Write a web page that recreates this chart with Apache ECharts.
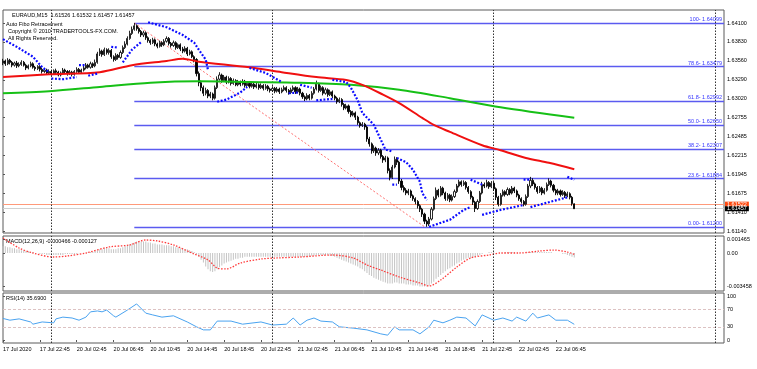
<!DOCTYPE html>
<html><head><meta charset="utf-8">
<script src="https://cdn.jsdelivr.net/npm/echarts@6/dist/echarts.min.js"></script>
<style>html,body{margin:0;padding:0;background:#fff}#c{width:757px;height:369px}</style>
</head><body><div id="c"></div>
<script>
// ---- price data (EURAUD M15), one entry per bar ----
const opens = [
1.6353,1.6356,1.6352,1.6357,1.6354,1.6350,1.6353,1.6349,1.6351,1.6354,
1.6350,1.6346,1.6349,1.6352,1.6347,1.6345,1.6348,1.6344,1.6341,1.6343,
1.6339,1.6341,1.6338,1.6342,1.6340,1.6336,1.6339,1.6343,1.6341,1.6338,
1.6340,1.6337,1.6341,1.6344,1.6340,1.6343,1.6346,1.6350,1.6347,1.6352,
1.6349,1.6354,1.6366,1.6370,1.6365,1.6372,1.6368,1.6371,1.6362,1.6358,
1.6364,1.6361,1.6368,1.6375,1.6380,1.6388,1.6395,1.6401,1.6406,1.6402,
1.6398,1.6393,1.6396,1.6389,1.6385,1.6382,1.6386,1.6380,1.6377,1.6382,
1.6379,1.6384,1.6388,1.6381,1.6378,1.6382,1.6375,1.6379,1.6373,1.6370,
1.6374,1.6366,1.6369,1.6362,1.6358,1.6338,1.6325,1.6318,1.6310,1.6314,
1.6306,1.6309,1.6303,1.6318,1.6330,1.6336,1.6328,1.6333,1.6326,1.6331,
1.6324,1.6328,1.6322,1.6326,1.6323,1.6327,1.6321,1.6324,1.6320,1.6323,
1.6319,1.6322,1.6318,1.6321,1.6317,1.6320,1.6316,1.6314,1.6317,1.6313,
1.6316,1.6312,1.6315,1.6318,1.6314,1.6311,1.6315,1.6318,1.6312,1.6316,
1.6310,1.6305,1.6302,1.6307,1.6303,1.6310,1.6316,1.6323,1.6314,1.6318,
1.6310,1.6315,1.6308,1.6312,1.6306,1.6303,1.6298,1.6301,1.6294,1.6289,
1.6292,1.6284,1.6279,1.6282,1.6276,1.6268,1.6264,1.6266,1.6262,1.6245,
1.6238,1.6228,1.6232,1.6225,1.6229,1.6220,1.6215,1.6218,1.6200,1.6190,
1.6205,1.6216,1.6212,1.6185,1.6176,1.6172,1.6168,1.6171,1.6164,1.6160,
1.6156,1.6150,1.6145,1.6138,1.6128,1.6124,1.6131,1.6145,1.6160,1.6172,
1.6165,1.6175,1.6168,1.6160,1.6165,1.6158,1.6163,1.6170,1.6178,1.6184,
1.6180,1.6183,1.6176,1.6170,1.6162,1.6155,1.6146,1.6156,1.6168,1.6180,
1.6178,1.6183,1.6177,1.6182,1.6174,1.6162,1.6152,1.6165,1.6170,1.6166,
1.6173,1.6168,1.6175,1.6171,1.6165,1.6160,1.6156,1.6152,1.6163,1.6178,
1.6186,1.6181,1.6176,1.6170,1.6175,1.6168,1.6172,1.6180,1.6185,1.6179,
1.6172,1.6168,1.6171,1.6166,1.6169,1.6164,1.6167,1.6162,1.61526];
const highs = [
1.6359,1.6358,1.6360,1.6359,1.6356,1.6355,1.6356,1.6354,1.6357,1.6356,
1.6352,1.6351,1.6355,1.6354,1.6349,1.6350,1.6350,1.6346,1.6346,1.6345,
1.6344,1.6343,1.6344,1.6345,1.6342,1.6341,1.6346,1.6345,1.6343,1.6343,
1.6342,1.6343,1.6347,1.6346,1.6345,1.6349,1.6353,1.6352,1.6355,1.6354,
1.6358,1.6369,1.6374,1.6372,1.6375,1.6374,1.6374,1.6373,1.6364,1.6367,
1.6366,1.6371,1.6378,1.6384,1.6391,1.6399,1.6405,1.6410,1.6408,1.6404,
1.6400,1.6399,1.6398,1.6391,1.6387,1.6389,1.6388,1.6382,1.6385,1.6384,
1.6387,1.6391,1.6390,1.6383,1.6385,1.6384,1.6381,1.6381,1.6376,1.6377,
1.6376,1.6372,1.6371,1.6364,1.6360,1.6341,1.6328,1.6321,1.6318,1.6316,
1.6312,1.6311,1.6321,1.6334,1.6340,1.6338,1.6336,1.6335,1.6334,1.6333,
1.6331,1.6330,1.6329,1.6328,1.6330,1.6329,1.6327,1.6326,1.6326,1.6325,
1.6325,1.6324,1.6324,1.6323,1.6323,1.6322,1.6318,1.6320,1.6319,1.6319,
1.6318,1.6318,1.6321,1.6320,1.6316,1.6318,1.6321,1.6320,1.6319,1.6318,
1.6312,1.6307,1.6310,1.6309,1.6313,1.6319,1.6328,1.6325,1.6321,1.6320,
1.6318,1.6317,1.6315,1.6314,1.6308,1.6305,1.6304,1.6303,1.6296,1.6295,
1.6294,1.6286,1.6285,1.6284,1.6278,1.6270,1.6269,1.6268,1.6264,1.6248,
1.6240,1.6236,1.6234,1.6232,1.6231,1.6222,1.6221,1.6220,1.6203,1.6208,
1.6220,1.6219,1.6214,1.6188,1.6179,1.6175,1.6174,1.6173,1.6166,1.6162,
1.6158,1.6152,1.6147,1.6140,1.6130,1.6134,1.6148,1.6163,1.6176,1.6174,
1.6178,1.6177,1.6170,1.6168,1.6167,1.6166,1.6173,1.6181,1.6187,1.6186,
1.6186,1.6185,1.6178,1.6172,1.6164,1.6157,1.6159,1.6171,1.6184,1.6183,
1.6187,1.6185,1.6185,1.6184,1.6176,1.6164,1.6168,1.6173,1.6172,1.6176,
1.6175,1.6178,1.6177,1.6173,1.6167,1.6162,1.6158,1.6166,1.6181,1.6191,
1.6189,1.6183,1.6178,1.6178,1.6177,1.6175,1.6183,1.6189,1.6187,1.6181,
1.6174,1.6174,1.6173,1.6172,1.6171,1.6170,1.6169,1.6164,1.61532];
const lows = [
1.6350,1.6349,1.6350,1.6351,1.6347,1.6348,1.6346,1.6347,1.6349,1.6348,
1.6343,1.6344,1.6347,1.6345,1.6342,1.6343,1.6341,1.6338,1.6339,1.6336,
1.6337,1.6335,1.6336,1.6337,1.6334,1.6334,1.6337,1.6338,1.6335,1.6336,
1.6334,1.6335,1.6339,1.6338,1.6338,1.6341,1.6344,1.6345,1.6345,1.6346,
1.6347,1.6352,1.6363,1.6362,1.6363,1.6365,1.6365,1.6359,1.6355,1.6356,
1.6358,1.6359,1.6366,1.6373,1.6378,1.6386,1.6393,1.6399,1.6399,1.6395,
1.6390,1.6390,1.6386,1.6382,1.6379,1.6380,1.6377,1.6374,1.6375,1.6376,
1.6377,1.6382,1.6378,1.6375,1.6376,1.6372,1.6373,1.6370,1.6367,1.6368,
1.6363,1.6364,1.6360,1.6354,1.6334,1.6320,1.6313,1.6306,1.6307,1.6303,
1.6303,1.6300,1.6301,1.6316,1.6328,1.6325,1.6326,1.6323,1.6324,1.6321,
1.6322,1.6320,1.6320,1.6320,1.6321,1.6318,1.6319,1.6317,1.6318,1.6316,
1.6317,1.6315,1.6316,1.6314,1.6315,1.6313,1.6311,1.6312,1.6310,1.6311,
1.6309,1.6310,1.6313,1.6311,1.6308,1.6309,1.6313,1.6309,1.6310,1.6307,
1.6302,1.6299,1.6300,1.6300,1.6301,1.6308,1.6314,1.6311,1.6312,1.6307,
1.6308,1.6305,1.6306,1.6303,1.6300,1.6295,1.6296,1.6291,1.6286,1.6287,
1.6281,1.6276,1.6277,1.6272,1.6265,1.6261,1.6262,1.6258,1.6241,1.6234,
1.6224,1.6225,1.6221,1.6222,1.6217,1.6211,1.6212,1.6196,1.6186,1.6188,
1.6203,1.6208,1.6181,1.6172,1.6169,1.6165,1.6165,1.6161,1.6157,1.6152,
1.6146,1.6141,1.6134,1.6124,1.6120,1.6121,1.6129,1.6143,1.6158,1.6162,
1.6163,1.6165,1.6157,1.6157,1.6155,1.6156,1.6161,1.6168,1.6176,1.6177,
1.6178,1.6173,1.6167,1.6159,1.6151,1.6141,1.6144,1.6154,1.6166,1.6175,
1.6176,1.6174,1.6175,1.6171,1.6158,1.6149,1.6150,1.6163,1.6163,1.6164,
1.6165,1.6166,1.6168,1.6162,1.6157,1.6153,1.6149,1.6150,1.6161,1.6175,
1.6178,1.6173,1.6167,1.6168,1.6165,1.6166,1.6170,1.6178,1.6176,1.6169,
1.6165,1.6165,1.6163,1.6164,1.6161,1.6162,1.6159,1.6150,1.61457];
const closes = [
1.6356,1.6352,1.6357,1.6354,1.6350,1.6353,1.6349,1.6351,1.6354,1.6350,
1.6346,1.6349,1.6352,1.6347,1.6345,1.6348,1.6344,1.6341,1.6343,1.6339,
1.6341,1.6338,1.6342,1.6340,1.6336,1.6339,1.6343,1.6341,1.6338,1.6340,
1.6337,1.6341,1.6344,1.6340,1.6343,1.6346,1.6350,1.6347,1.6352,1.6349,
1.6354,1.6366,1.6370,1.6365,1.6372,1.6368,1.6371,1.6362,1.6358,1.6364,
1.6361,1.6368,1.6375,1.6380,1.6388,1.6395,1.6401,1.6406,1.6402,1.6398,
1.6393,1.6396,1.6389,1.6385,1.6382,1.6386,1.6380,1.6377,1.6382,1.6379,
1.6384,1.6388,1.6381,1.6378,1.6382,1.6375,1.6379,1.6373,1.6370,1.6374,
1.6366,1.6369,1.6362,1.6358,1.6338,1.6325,1.6318,1.6310,1.6314,1.6306,
1.6309,1.6303,1.6318,1.6330,1.6336,1.6328,1.6333,1.6326,1.6331,1.6324,
1.6328,1.6322,1.6326,1.6323,1.6327,1.6321,1.6324,1.6320,1.6323,1.6319,
1.6322,1.6318,1.6321,1.6317,1.6320,1.6316,1.6314,1.6317,1.6313,1.6316,
1.6312,1.6315,1.6318,1.6314,1.6311,1.6315,1.6318,1.6312,1.6316,1.6310,
1.6305,1.6302,1.6307,1.6303,1.6310,1.6316,1.6323,1.6314,1.6318,1.6310,
1.6315,1.6308,1.6312,1.6306,1.6303,1.6298,1.6301,1.6294,1.6289,1.6292,
1.6284,1.6279,1.6282,1.6276,1.6268,1.6264,1.6266,1.6262,1.6245,1.6238,
1.6228,1.6232,1.6225,1.6229,1.6220,1.6215,1.6218,1.6200,1.6190,1.6205,
1.6216,1.6212,1.6185,1.6176,1.6172,1.6168,1.6171,1.6164,1.6160,1.6156,
1.6150,1.6145,1.6138,1.6128,1.6124,1.6131,1.6145,1.6160,1.6172,1.6165,
1.6175,1.6168,1.6160,1.6165,1.6158,1.6163,1.6170,1.6178,1.6184,1.6180,
1.6183,1.6176,1.6170,1.6162,1.6155,1.6146,1.6156,1.6168,1.6180,1.6178,
1.6183,1.6177,1.6182,1.6174,1.6162,1.6152,1.6165,1.6170,1.6166,1.6173,
1.6168,1.6175,1.6171,1.6165,1.6160,1.6156,1.6152,1.6163,1.6178,1.6186,
1.6181,1.6176,1.6170,1.6175,1.6168,1.6172,1.6180,1.6185,1.6179,1.6172,
1.6168,1.6171,1.6166,1.6169,1.6164,1.6167,1.6162,1.6153,1.61457];

// moving averages: [bar, price]
const maRed = [[0,1.6333],[20,1.6337],[42,1.6340],[56,1.6350],[71,1.6356],[78,1.6359],[85,1.6355],[107,1.6347],[121,1.6340],[136,1.6333],[149,1.6329],[156,1.6322],[165,1.6308],[172,1.6296],[182,1.6275],[187,1.6265],[194,1.6255],[208,1.6236],[216,1.6229],[227,1.6218],[237,1.6211],[248,1.6202]];
const maGreen = [[0,1.6310],[20,1.6313],[42,1.6319],[64,1.6325],[85,1.6327],[107,1.6326],[129,1.6325],[151,1.6322],[172,1.6315],[194,1.6303],[216,1.6290],[248,1.6275]];

// parabolic SAR runs: [bar, price]
const sarRuns = [
 [[0,1.6387],[6,1.6376],[13,1.6362],[17,1.6347],[20,1.6340]],
 [[21,1.6331],[26,1.6330],[32,1.6333]],
 [[33,1.6350],[36,1.6350]],
 [[37,1.6335],[41,1.6338]],
 [[47,1.6376],[50,1.6375]],
 [[52,1.6354],[56,1.6372],[60,1.6383]],
 [[63,1.6411],[71,1.6404],[78,1.6393],[83,1.6382],[85,1.6372],[88,1.6358],[89,1.6343]],
 [[93,1.6298],[97,1.6301],[103,1.6311],[106,1.6319]],
 [[107,1.6346],[114,1.6339],[121,1.6326]],
 [[124,1.6310],[128,1.6311]],
 [[129,1.6322],[134,1.6318]],
 [[136,1.6300],[143,1.6302]],
 [[143,1.6329],[149,1.6326],[151,1.6318],[154,1.6300],[156,1.6282],[159,1.6272],[161,1.6265],[164,1.6244],[166,1.6230],[169,1.6227]],
 [[169,1.6180],[171,1.6180]],
 [[171,1.6218],[175,1.6212],[178,1.6201],[181,1.6184],[182,1.6168],[184,1.6158]],
 [[185,1.6120],[194,1.6130],[200,1.6144],[203,1.6148]],
 [[203,1.6187],[208,1.6180]],
 [[208,1.6137],[216,1.6144],[226,1.6151]],
 [[226,1.6187],[229,1.6187]],
 [[229,1.6148],[245,1.6162]],
 [[245,1.6191],[248,1.6187]]
];

// fibonacci levels
const fiboPct = ['100','78.6','61.8','50.0','38.2','23.6','0.00'];
const fiboLevels = [1.64099,1.63479,1.62992,1.62650,1.62307,1.61884,1.61200];
const fiboHighBar = 57, fiboLowBar = 183;
const askPrice = 1.61522, bidPrice = 1.61457;

// MACD(12,26,9) main (histogram) per bar and signal line points
const macdMain = [
0.0007,0.0007,0.0006,0.0006,0.0005,0.0005,0.0004,0.0004,0.0003,0.0003,
0.0002,0.0002,0.0001,0.0001,0,0,-0.0001,-0.0001,-0.0001,-0.0002,
-0.0002,-0.0002,-0.0002,-0.0002,-0.0002,-0.0002,-0.0002,-0.0001,-0.0001,-0.0001,
-0.0001,-0.0001,-0.0001,0,0,0,0,0.0001,0.0001,0.0001,
0.0002,0.0003,0.0004,0.0004,0.0005,0.0005,0.0005,0.0004,0.0004,0.0004,
0.0005,0.0005,0.0006,0.0007,0.0008,0.0009,0.0010,0.0011,0.0012,0.0012,
0.0012,0.0012,0.0012,0.0011,0.0011,0.0010,0.0010,0.0009,0.0009,0.0009,
0.0008,0.0008,0.0008,0.0007,0.0007,0.0006,0.0006,0.0005,0.0005,0.0004,
0.0004,0.0003,0.0002,0.0001,-0.0001,-0.0004,-0.0007,-0.0010,-0.0014,-0.0017,
-0.0019,-0.0020,-0.0019,-0.0017,-0.0015,-0.0013,-0.0011,-0.0010,-0.0009,-0.0008,
-0.0007,-0.0006,-0.0006,-0.0005,-0.0005,-0.0004,-0.0004,-0.0004,-0.0004,-0.0004,
-0.0004,-0.0004,-0.0004,-0.0004,-0.0004,-0.0004,-0.0004,-0.0004,-0.0004,-0.0004,
-0.0004,-0.0004,-0.0004,-0.0004,-0.0004,-0.0004,-0.0004,-0.0004,-0.0004,-0.0004,
-0.0004,-0.0004,-0.0004,-0.0004,-0.0003,-0.0003,-0.0002,-0.0002,-0.0002,-0.0002,
-0.0002,-0.0002,-0.0003,-0.0003,-0.0004,-0.0005,-0.0006,-0.0007,-0.0008,-0.0009,
-0.0010,-0.0011,-0.0012,-0.0013,-0.0014,-0.0016,-0.0017,-0.0019,-0.0021,-0.0023,
-0.0024,-0.0026,-0.0027,-0.0028,-0.0029,-0.0030,-0.0031,-0.0032,-0.0032,-0.0032,
-0.0031,-0.0031,-0.0032,-0.0032,-0.0032,-0.0033,-0.0033,-0.0033,-0.0034,-0.0034,
-0.0034,-0.0035,-0.0035,-0.0035,-0.0035,-0.0034,-0.0032,-0.0030,-0.0027,-0.0025,
-0.0023,-0.0021,-0.0019,-0.0017,-0.0016,-0.0014,-0.0013,-0.0011,-0.0010,-0.0008,
-0.0007,-0.0006,-0.0005,-0.0005,-0.0005,-0.0004,-0.0003,-0.0002,-0.0001,0,
0,0.0001,0.0001,0.0001,0,0,0,0,0.0001,0.0001,
0.0001,0.0001,0.0001,0,0,0,0,0,0.0001,0.0001,
0.0001,0.0001,0.0001,0.0001,0.0001,0.0001,0.0001,0.0001,0.0001,0,
0,0,0,-0.0001,-0.0001,-0.0002,-0.0003,-0.0004,-0.000466];
const macdSignal = [[0,0.00157],[7,0.00052],[13,0],[22,-0.00042],[28,-0.00031],[36,0],[46,0.00063],[55,0.00084],[62,0.00136],[67,0.00126],[74,0.00084],[82,0],[89,-0.00073],[93,-0.00157],[97,-0.00167],[103,-0.00105],[112,-0.00063],[119,-0.00052],[129,-0.00042],[143,-0.00021],[152,-0.00052],[158,-0.00126],[164,-0.00178],[172,-0.00251],[181,-0.00314],[185,-0.00345],[190,-0.00283],[197,-0.00147],[203,-0.00052],[211,-0.00021],[216,0],[224,0],[233,0.00021],[239,0.00031],[245,0.0001],[248,-0.000127]];

// RSI(14) points
const rsi = [[0,49],[3,45],[7,48],[12,41],[13,36],[17,41],[22,39],[23,48],[26,52],[30,50],[33,45],[36,52],[38,64],[41,66],[43,64],[45,68],[48,55],[49,52],[54,68],[58,82],[62,61],[65,57],[69,52],[74,55],[80,41],[84,30],[87,23],[90,23],[93,43],[99,43],[104,36],[112,41],[117,34],[123,36],[126,50],[129,34],[132,45],[135,50],[138,43],[143,41],[146,30],[152,27],[158,23],[164,14],[167,11],[170,30],[172,23],[178,23],[181,14],[185,30],[187,45],[191,39],[194,45],[197,52],[201,50],[205,32],[208,57],[213,45],[217,50],[221,43],[223,52],[227,43],[230,61],[232,50],[237,57],[240,45],[245,45],[248,35.69]];

// axes
const priceTicks = [1.64100,1.63830,1.63560,1.63290,1.63020,1.62755,1.62485,1.62215,1.61945,1.61675,1.61410,1.61140];
const macdTicks = [0.001465, 0, -0.003458];
const rsiTicks = [100, 70, 30, 0];
const rsiLevels = [70, 30];
const timeLabelBars = [0,16,32,48,64,80,96,112,128,144,160,176,192,208,224,240];
const timeLabels = ['17 Jul 2020','17 Jul 22:45','20 Jul 02:45','20 Jul 06:45','20 Jul 10:45','20 Jul 14:45','20 Jul 18:45','20 Jul 22:45','21 Jul 02:45','21 Jul 06:45','21 Jul 10:45','21 Jul 14:45','21 Jul 18:45','21 Jul 22:45','22 Jul 02:45','22 Jul 06:45'];
const daySeparators = [21, 117, 213, 309];
const lastBarSlot = 313;

const FONT = '"Liberation Sans", Arial, sans-serif';
const FS = 5.5;
const chart = echarts.init(document.getElementById('c'), null, {renderer: 'canvas'});

const sepStyle = {color: '#333', type: [1.5, 1.5], width: 1};
const sepLines = daySeparators.map(b => ({xAxis: b, lineStyle: sepStyle, label: {show: false}}));

const xBase = (gi, showLabels) => ({
  type: 'value', gridIndex: gi, min: 0, max: lastBarSlot,
  axisLine: {show: false},
  splitLine: {show: false},
  axisTick: {show: showLabels, customValues: timeLabelBars, length: 2, lineStyle: {color: '#555'}},
  axisLabel: {show: showLabels, customValues: timeLabelBars, align: 'left', margin: 3,
    fontSize: FS, fontFamily: FONT, color: '#000',
    formatter: v => timeLabels[timeLabelBars.indexOf(v)] || ''}
});
const yBase = (gi, min, max, ticks, fmt) => ({
  type: 'value', gridIndex: gi, position: 'right', min, max, scale: true,
  axisLine: {show: false}, splitLine: {show: false},
  axisTick: {show: true, inside: false, length: 2, customValues: ticks, lineStyle: {color: '#555'}},
  axisLabel: {customValues: ticks, margin: 3, fontSize: FS, fontFamily: FONT, color: '#000', formatter: fmt}
});

const fiboMark = fiboLevels.map((lv, k) => [
  {coord: [fiboHighBar, lv], label: {show: true, position: 'insideEndTop', distance: [2, 0.5],
    formatter: fiboPct[k] + '- ' + lv.toFixed(5), fontSize: FS, fontFamily: FONT, color: '#3434ff'}},
  {coord: [lastBarSlot, lv]}
]);
const priceTag = (price, lineColor, tagColor) => [
  {coord: [0, price], lineStyle: {color: lineColor, width: 1, type: 'solid'},
   label: {show: true, position: 'end', distance: 1, formatter: price.toFixed(5), color: '#fff',
     backgroundColor: tagColor, padding: [0, 2, -1, 2], lineHeight: 6, fontSize: FS, fontFamily: FONT}},
  {coord: [lastBarSlot, price]}
];

const series = [
  {type: 'candlestick', name: 'EURAUD', xAxisIndex: 0, yAxisIndex: 0, barWidth: 1.6, z: 3,
   encode: {x: 0, y: [1, 2, 3, 4]},
   data: closes.map((c, i) => [i, opens[i], c, lows[i], highs[i]]),
   itemStyle: {color: '#ffffff', color0: '#000000', borderColor: '#111111', borderColor0: '#000000', borderWidth: 0.9},
   markLine: {symbol: ['none','none'], silent: true, z: 1, animation: false,
     lineStyle: {color: '#5b5bf0', type: 'solid', width: 1.3},
     data: [
       ...fiboMark,
       priceTag(askPrice, '#ff9a7a', '#ff4a10'),
       priceTag(bidPrice, '#d0d0d0', '#000000'),
       ...sepLines
     ]}},
  {type: 'line', name: 'fiboTrend', xAxisIndex: 0, yAxisIndex: 0, symbol: 'none', z: 2,
   data: [[fiboHighBar, fiboLevels[0]], [fiboLowBar, fiboLevels[fiboLevels.length - 1]]],
   lineStyle: {color: '#ff7070', width: 1, type: [2, 2]}},
  {type: 'line', name: 'MA green', xAxisIndex: 0, yAxisIndex: 0, symbol: 'none', smooth: 0.3, z: 4,
   data: maGreen, lineStyle: {color: '#16c016', width: 2}},
  {type: 'line', name: 'MA red', xAxisIndex: 0, yAxisIndex: 0, symbol: 'none', smooth: 0.3, z: 4,
   data: maRed, lineStyle: {color: '#f01010', width: 2}},
  ...sarRuns.map(run => ({type: 'line', name: 'SAR', xAxisIndex: 0, yAxisIndex: 0, symbol: 'none', z: 5,
   data: run, lineStyle: {color: '#0a0aff', width: 2.2, type: [1.9, 1.7], cap: 'butt'}})),
  {type: 'bar', name: 'MACD', xAxisIndex: 1, yAxisIndex: 1, barWidth: 1, z: 2,
   data: macdMain.map((v, i) => [i, v]), itemStyle: {color: '#c4c4c4'},
   markLine: {symbol: ['none','none'], silent: true, data: sepLines}},
  {type: 'line', name: 'Signal', xAxisIndex: 1, yAxisIndex: 1, symbol: 'none', smooth: 0.3, z: 3,
   data: macdSignal, lineStyle: {color: '#ff3b3b', width: 1.3, type: [1.5, 1.5]}},
  {type: 'line', name: 'RSI', xAxisIndex: 2, yAxisIndex: 2, symbol: 'none', z: 3,
   data: rsi, lineStyle: {color: '#4aa3f0', width: 1},
   markLine: {symbol: ['none','none'], silent: true, label: {show: false},
     data: [...rsiLevels.map(l => [{coord: [0, l], lineStyle: {color: '#dcc2c2', type: [3, 2], width: 1}}, {coord: [lastBarSlot, l]}]),
            ...sepLines]}}
];

const last = closes.length - 1;
chart.setOption({
  animation: false,
  backgroundColor: '#ffffff',
  grid: [
    {left: 3, right: 33, top: 10, height: 223, show: true, borderColor: '#5a5a5a', borderWidth: 1, backgroundColor: 'transparent'},
    {left: 3, right: 33, top: 236, height: 55, show: true, borderColor: '#5a5a5a', borderWidth: 1},
    {left: 3, right: 33, top: 293, height: 50, show: true, borderColor: '#5a5a5a', borderWidth: 1}
  ],
  xAxis: [xBase(0, false), xBase(1, false), xBase(2, true)],
  yAxis: [
    yBase(0, 1.611115, 1.64285, priceTicks, v => v.toFixed(5)),
    yBase(1, -0.003977, 0.001779, macdTicks, v => v === 0 ? '0.00' : v.toFixed(6)),
    yBase(2, -6.8, 106.8, rsiTicks, v => String(v))
  ],
  graphic: [
    {type: 'text', left: 12, top: 12, style: {text: 'EURAUD,M15  ' + opens[last].toFixed(5) + ' ' + highs[last].toFixed(5) + ' ' + lows[last].toFixed(5) + ' ' + closes[last].toFixed(5), font: FS + 'px ' + FONT, fill: '#000'}},
    {type: 'text', left: 6, top: 21, style: {text: 'Auto Fibo Retracement', font: FS + 'px ' + FONT, fill: '#000'}},
    {type: 'text', left: 8, top: 28, style: {text: 'Copyright \u00a9 2010 TRADERTOOLS-FX.COM.', font: FS + 'px ' + FONT, fill: '#000'}},
    {type: 'text', left: 8, top: 35, style: {text: 'All Rights Reserved.', font: FS + 'px ' + FONT, fill: '#000'}},
    {type: 'text', left: 6, top: 238, style: {text: 'MACD(12,26,9) ' + macdMain[last].toFixed(6) + ' ' + macdSignal[macdSignal.length - 1][1].toFixed(6), font: FS + 'px ' + FONT, fill: '#000'}},
    {type: 'text', left: 6, top: 295, style: {text: 'RSI(14) ' + rsi[rsi.length - 1][1].toFixed(4), font: FS + 'px ' + FONT, fill: '#000'}}
  ],
  series
});
</script></body></html>
